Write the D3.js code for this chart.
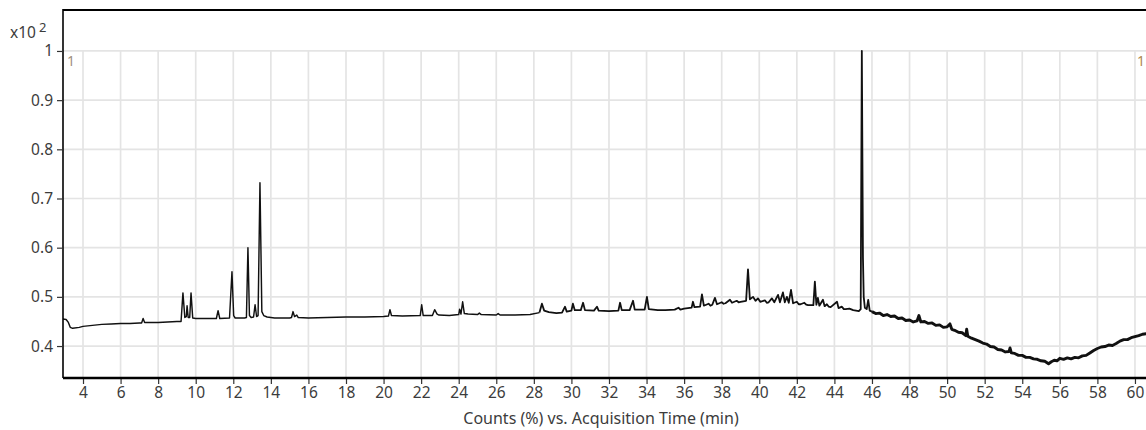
<!DOCTYPE html>
<html>
<head>
<meta charset="utf-8">
<script src="https://cdn.jsdelivr.net/npm/d3@7"></script>
<style>
  html, body { margin: 0; padding: 0; background: #fff; overflow: hidden; }
  svg { display: block; font-family: "Noto Sans", "Liberation Sans", Arial, sans-serif; }
</style>
</head>
<body>
<svg id="chart" width="1146" height="430"></svg>
<script>
// Tick values for both axes
const xTicks = [4, 6, 8, 10, 12, 14, 16, 18, 20, 22, 24, 26, 28, 30, 32, 34, 36, 38, 40, 42, 44, 46, 48, 50, 52, 54, 56, 58, 60];
const yTicks = [0.4, 0.5, 0.6, 0.7, 0.8, 0.9, 1.0];
const yTickLabels = ["0.4", "0.5", "0.6", "0.7", "0.8", "0.9", "1"];

// Chromatogram trace: [acquisition time (min), counts (x10^2 %)]
const traceEarly = [
  [2.93, 0.455], [3.10, 0.454], [3.22, 0.448], [3.32, 0.438], [3.45, 0.436], [3.8, 0.438],
  [4.0, 0.440], [4.5, 0.442], [5.0, 0.444], [5.5, 0.445], [6.0, 0.446], [6.5, 0.446],
  [7.0, 0.447], [7.12, 0.447], [7.2, 0.456], [7.28, 0.448], [7.6, 0.448], [8.0, 0.448],
  [8.5, 0.449], [9.0, 0.450], [9.22, 0.450], [9.32, 0.508], [9.42, 0.458], [9.5, 0.460],
  [9.54, 0.482], [9.6, 0.458], [9.68, 0.458], [9.75, 0.508], [9.84, 0.457], [10.0, 0.456],
  [10.5, 0.456], [11.1, 0.456], [11.19, 0.472], [11.28, 0.456], [11.8, 0.457], [11.93, 0.551],
  [12.02, 0.462], [12.1, 0.457], [12.6, 0.457], [12.7, 0.458], [12.78, 0.600], [12.86, 0.462],
  [12.95, 0.458], [13.08, 0.459], [13.16, 0.484], [13.24, 0.460], [13.32, 0.462], [13.42, 0.732],
  [13.52, 0.470], [13.62, 0.462], [13.8, 0.459], [14.2, 0.457], [15.0, 0.457], [15.1, 0.458],
  [15.18, 0.470], [15.26, 0.460], [15.38, 0.463], [15.46, 0.458], [16.0, 0.457], [17.0, 0.458],
  [18.0, 0.459], [19.0, 0.459], [20.0, 0.460], [20.26, 0.461], [20.34, 0.474], [20.42, 0.462],
  [21.0, 0.461], [21.95, 0.462], [22.03, 0.484], [22.11, 0.462], [22.6, 0.462], [22.72, 0.474],
  [22.85, 0.465], [22.95, 0.463], [23.5, 0.462], [24.0, 0.464], [24.05, 0.475], [24.12, 0.465],
  [24.21, 0.490], [24.3, 0.466], [24.5, 0.465], [25.0, 0.464], [25.1, 0.467], [25.2, 0.464],
  [26.0, 0.463], [26.1, 0.466], [26.2, 0.463], [27.0, 0.463], [27.8, 0.464], [28.3, 0.468]
];

const traceMiddle = [
  [28.3, 0.468], [28.43, 0.486], [28.55, 0.472], [28.8, 0.469], [29.2, 0.467], [29.5, 0.468],
  [29.66, 0.480], [29.75, 0.470], [30.0, 0.472], [30.08, 0.486], [30.18, 0.473], [30.5, 0.473],
  [30.62, 0.488], [30.72, 0.473], [31.2, 0.472], [31.36, 0.480], [31.45, 0.472], [32.0, 0.471],
  [32.5, 0.472], [32.59, 0.488], [32.68, 0.473], [33.1, 0.473], [33.28, 0.492], [33.37, 0.474],
  [33.9, 0.474], [34.02, 0.500], [34.12, 0.475], [34.6, 0.473], [35.0, 0.473], [35.5, 0.474],
  [35.7, 0.478], [35.8, 0.474], [36.0, 0.476], [36.4, 0.478], [36.47, 0.490], [36.55, 0.479],
  [36.85, 0.480], [36.95, 0.505], [37.05, 0.482], [37.3, 0.486], [37.4, 0.482], [37.5, 0.484],
  [37.64, 0.498], [37.75, 0.485], [38.0, 0.489], [38.1, 0.486], [38.2, 0.487], [38.44, 0.494],
  [38.55, 0.488], [38.8, 0.492], [38.9, 0.489], [39.0, 0.490], [39.3, 0.492], [39.4, 0.556],
  [39.5, 0.495], [39.67, 0.500], [39.8, 0.492], [39.93, 0.497], [40.05, 0.490], [40.3, 0.493],
  [40.4, 0.488], [40.5, 0.489], [40.67, 0.497], [40.8, 0.489], [41.0, 0.504], [41.1, 0.489],
  [41.26, 0.509], [41.36, 0.489], [41.47, 0.500], [41.57, 0.488], [41.69, 0.514], [41.8, 0.487],
  [42.0, 0.490], [42.1, 0.485], [42.2, 0.485], [42.4, 0.488], [42.5, 0.484], [42.6, 0.483],
  [42.88, 0.483], [42.96, 0.531], [43.04, 0.484], [43.12, 0.498], [43.2, 0.482], [43.39, 0.494],
  [43.48, 0.481], [43.6, 0.485], [43.7, 0.480], [43.8, 0.479], [44.14, 0.490], [44.22, 0.477],
  [44.4, 0.480], [44.5, 0.475], [44.6, 0.475], [44.8, 0.476], [45.0, 0.473], [45.3, 0.471],
  [45.4, 0.475], [45.46, 1.0], [45.52, 0.580], [45.56, 0.500], [45.62, 0.478], [45.72, 0.475],
  [45.8, 0.494], [45.88, 0.472], [46.0, 0.470]
];

const traceLate = [
  [46.0, 0.470], [46.2, 0.466], [46.4, 0.467], [46.6, 0.462], [46.8, 0.464], [47.0, 0.460],
  [47.2, 0.461], [47.4, 0.456], [47.6, 0.457], [47.8, 0.452], [48.0, 0.453], [48.2, 0.449],
  [48.4, 0.451], [48.5, 0.462], [48.6, 0.449], [48.8, 0.450], [49.0, 0.446], [49.2, 0.447],
  [49.4, 0.442], [49.6, 0.443], [49.8, 0.438], [50.0, 0.439], [50.15, 0.445], [50.25, 0.434],
  [50.4, 0.432], [50.6, 0.428], [50.8, 0.427], [51.0, 0.421], [51.04, 0.434], [51.1, 0.420],
  [51.3, 0.416], [51.5, 0.413], [51.7, 0.410], [51.9, 0.406], [52.1, 0.404], [52.3, 0.399],
  [52.5, 0.398], [52.7, 0.393], [52.9, 0.392], [53.1, 0.388], [53.3, 0.389], [53.35, 0.396],
  [53.42, 0.386], [53.6, 0.385], [53.8, 0.381], [54.0, 0.381], [54.2, 0.377], [54.4, 0.377],
  [54.6, 0.374], [54.8, 0.373], [55.0, 0.370], [55.2, 0.369], [55.4, 0.364], [55.55, 0.368],
  [55.7, 0.371], [55.85, 0.370], [56.0, 0.375], [56.2, 0.373], [56.4, 0.376], [56.6, 0.374],
  [56.8, 0.377], [57.0, 0.376], [57.2, 0.380], [57.4, 0.381], [57.6, 0.386], [57.8, 0.391],
  [58.0, 0.395], [58.2, 0.398], [58.4, 0.399], [58.6, 0.402], [58.8, 0.401], [59.0, 0.405],
  [59.2, 0.410], [59.4, 0.413], [59.6, 0.413], [59.8, 0.417], [60.0, 0.419], [60.2, 0.421],
  [60.4, 0.424], [60.6, 0.425], [61.0, 0.427]
];

const xTitle = "Counts (%) vs. Acquisition Time (min)";

const svg = d3.select("#chart");
const W = 1146, H = 430;
const plot = { left: 63, top: 10, right: 1156, bottom: 378 };
const textColor = "#3c3c3c";
const font = "'Noto Sans', 'Liberation Sans', Arial, sans-serif";

const x = d3.scaleLinear().domain([2.935, 61.12]).range([plot.left, plot.right]);
const y = d3.scaleLinear().domain([0.335, 1.0833]).range([plot.bottom, plot.top]);

svg.append("defs").append("clipPath").attr("id", "plotClip")
  .append("rect").attr("x", plot.left).attr("y", plot.top)
  .attr("width", plot.right - plot.left).attr("height", plot.bottom - plot.top);

// Grid (only up to the 1.0 level)
const grid = svg.append("g").attr("clip-path", "url(#plotClip)");
grid.selectAll("line.vg").data(xTicks).join("line")
  .attr("x1", d => x(d)).attr("x2", d => x(d))
  .attr("y1", y(1.0)).attr("y2", plot.bottom)
  .attr("stroke", "#e4e4e4").attr("stroke-width", 1.7);
grid.selectAll("line.hg").data(yTicks).join("line")
  .attr("x1", plot.left).attr("x2", W)
  .attr("y1", d => y(d)).attr("y2", d => y(d))
  .attr("stroke", "#e4e4e4").attr("stroke-width", 1.7);

// Trace
const line = d3.line().x(d => x(d[0])).y(d => y(d[1]));
const traceG = svg.append("g").attr("clip-path", "url(#plotClip)")
  .attr("fill", "none").attr("stroke", "#111").attr("stroke-linejoin", "round");
traceG.append("path").datum(traceEarly).attr("d", line).attr("stroke-width", 1.45);
traceG.append("path").datum(traceMiddle).attr("d", line).attr("stroke-width", 1.8);
traceG.append("path").datum(traceLate).attr("d", line).attr("stroke-width", 2.9);

// Frame: top border and left axis line
svg.append("line").attr("x1", plot.left).attr("x2", W).attr("y1", plot.top).attr("y2", plot.top)
  .attr("stroke", "#000").attr("stroke-width", 2);
svg.append("line").attr("x1", plot.left).attr("x2", plot.left).attr("y1", plot.top - 1).attr("y2", plot.bottom)
  .attr("stroke", "#000").attr("stroke-width", 1.6);

// X axis
const xAxis = svg.append("g").attr("transform", `translate(0,${plot.bottom})`)
  .call(d3.axisBottom(x).tickValues(xTicks).tickSize(6).tickSizeOuter(0).tickPadding(3));
xAxis.select(".domain").remove();
xAxis.append("line").attr("x1", plot.left).attr("x2", W).attr("y1", 0).attr("y2", 0)
  .attr("stroke", "#000").attr("stroke-width", 2.6);
xAxis.selectAll(".tick line").attr("stroke", "#333").attr("stroke-width", 1.2);
xAxis.selectAll(".tick text").attr("fill", textColor).attr("font-size", 15.5)
  .attr("font-family", font);

// Y axis
const yAxis = svg.append("g").attr("transform", `translate(${plot.left},0)`)
  .call(d3.axisLeft(y).tickValues(yTicks).tickSize(6).tickSizeOuter(0).tickPadding(4)
    .tickFormat((d, i) => yTickLabels[i]));
yAxis.select(".domain").remove();
yAxis.selectAll(".tick line").attr("stroke", "#333").attr("stroke-width", 1.2);
yAxis.selectAll(".tick text").attr("fill", textColor).attr("font-size", 15.5)
  .attr("font-family", font);

// Scale factor label
const sf = svg.append("text").attr("x", 10).attr("y", 38)
  .attr("font-size", 15.5).attr("fill", textColor).attr("font-family", font);
sf.append("tspan").text("x10");
sf.append("tspan").attr("dx", 3).attr("dy", -6).attr("font-size", 13).text("2");

// Trace markers
svg.append("text").attr("x", 67).attr("y", 66).attr("font-size", 14).attr("fill", "#a09080")
  .attr("font-family", font).text("1");
svg.append("text").attr("x", 1137).attr("y", 66).attr("font-size", 14).attr("fill", "#b08a50")
  .attr("font-family", font).text("1");

// Axis title
svg.append("text").attr("x", 601).attr("y", 424).attr("text-anchor", "middle")
  .attr("font-size", 16).attr("fill", textColor).attr("font-family", font).text(xTitle);
</script>
</body>
</html>
